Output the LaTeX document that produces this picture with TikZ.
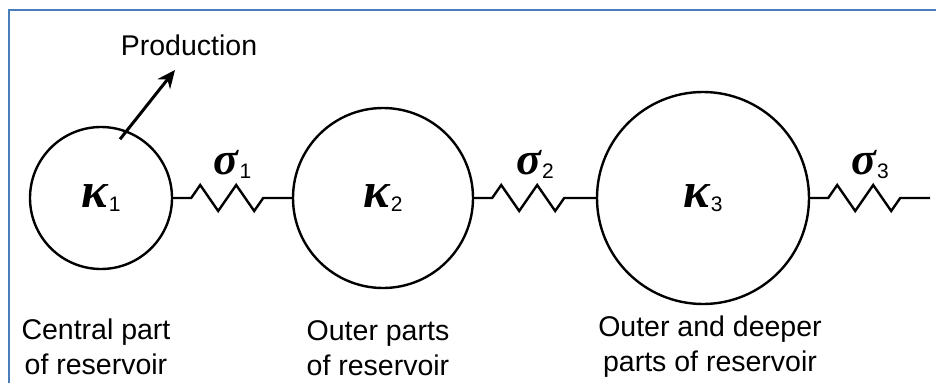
\documentclass[tikz,border=0pt]{standalone}
\usepackage{fontspec}
\setmainfont{Liberation Sans}
\newfontfamily\greekfont{Liberation Serif}
\usetikzlibrary{arrows.meta,positioning,decorations.pathmorphing}
\definecolor{frameBlue}{HTML}{4A7EBB}
% greek symbol with a small upright index
\newcommand{\gsym}[2]{{\greekfont\bfseries\itshape #1}\kern1pt\raisebox{-4pt}{\fontsize{21}{21}\selectfont #2}}

\begin{document}
\begin{tikzpicture}[x=1pt, y=-1pt,
  reservoir/.style={draw, circle, line width=2.4pt, inner sep=0pt, font=\fontsize{50}{50}\selectfont},
  zone/.style={align=center, font=\fontsize{28.5}{35}\selectfont},
  res/.style={line width=2.4pt, decorate, decoration={zigzag, segment length=36pt, amplitude=13pt, pre length=18pt, post length=14pt}},
  sig/.style={midway, above=15pt, font=\fontsize{46}{46}\selectfont},
  prod/.style={-{Stealth[length=18pt, width=16pt]}, line width=3pt}]
\useasboundingbox (0,0) rectangle (936,383);
\draw[frameBlue, line width=2.5pt] (9,383) -- (9,10) -- (936,10);
% blocks of the reservoir
\node[reservoir, minimum size=142pt] (k1) at (101,198) {\gsym{κ}{1}};
\node[reservoir, minimum size=180pt] (k2) at (383,198) {\gsym{κ}{2}};
\node[reservoir, minimum size=212pt] (k3) at (703,198) {\gsym{κ}{3}};
\coordinate (r3end) at (930,198);
\draw[res] (k1) -- node[sig]{\gsym{σ}{1}} (k2);
\draw[res] (k2) -- node[sig]{\gsym{σ}{2}} (k3);
\draw[res] (k3) -- node[sig]{\gsym{σ}{3}} (r3end);
% production well
\node[zone] (prodlbl) at (189,45) {Production};
\coordinate (prodtip) at (175,70);
\draw[prod, shorten <=-11pt] (k1.69) -- (prodtip);
% captions
\node[zone] (t1) at (96,347) {Central part\\of reservoir};
\node[zone] (t2) at (378,348) {Outer parts\\of reservoir};
\node[zone] (t3) at (710,347) {Outer and deeper\\parts of reservoir};
\end{tikzpicture}
\end{document}
